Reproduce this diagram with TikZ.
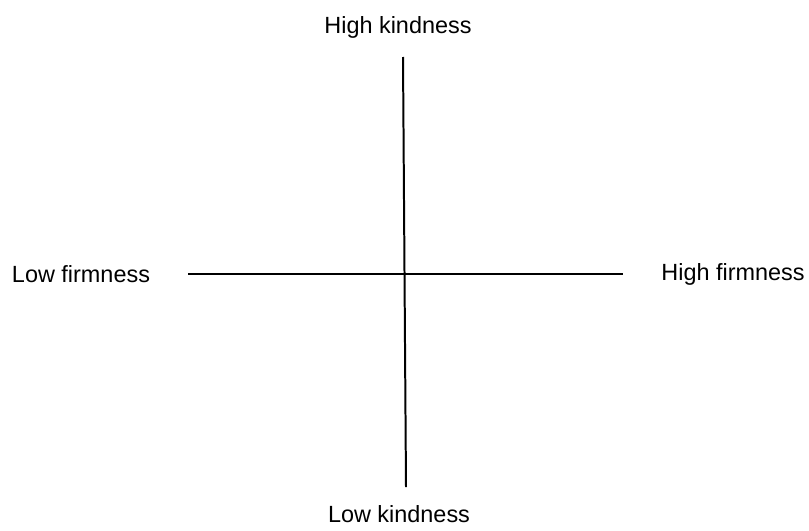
\documentclass[tikz,border=0pt]{standalone}
\usepackage{fontspec}
\setmainfont{Liberation Sans}
\usetikzlibrary{positioning}

\begin{document}
\begin{tikzpicture}[x=0.03cm, y=-0.03cm, font=\fontsize{20}{24}\selectfont]
    \useasboundingbox (0,0) rectangle (809,531);
    % Axis ends
    \coordinate (top) at (403,57);
    \coordinate (bottom) at (406,487);
    \coordinate (left) at (188,274);
    \coordinate (right) at (623,274);

    % Axes
    \draw[line width=1.7pt] (top) -- (bottom);
    \draw[line width=1.7pt] (left) -- (right);

    % Labels
    \node (highkind) at (398,27) {High kindness};
    \node (lowkind) at (399,514) {Low kindness};
    \node (lowfirm) at (81,274) {Low firmness};
    \node (highfirm) at (733,274) {High firmness};
\end{tikzpicture}
\end{document}
